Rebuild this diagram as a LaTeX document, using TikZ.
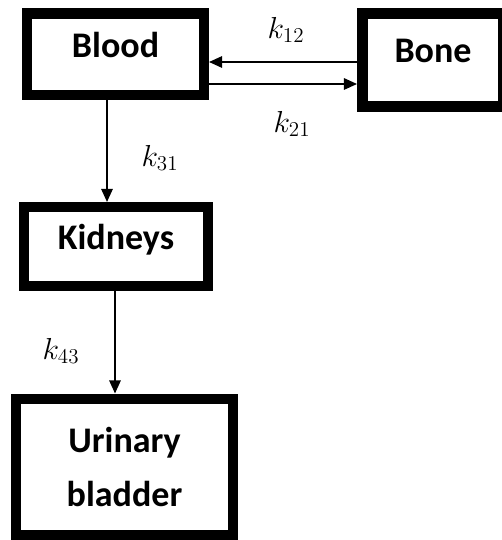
\documentclass[tikz,border=0pt]{standalone}
\usepackage{fontspec}
\setmainfont{Carlito}
\usepackage{tikz}
\usetikzlibrary{arrows.meta}
\definecolor{boxcol}{HTML}{000000}

\begin{document}
\begin{tikzpicture}[
    x=0.02cm, y=-0.02cm,
    organ/.style = {
        draw=boxcol, line width=5.7pt, inner sep=0pt,
        align=center, text height=0.7em, text depth=0.4em,
        font=\fontsize{20.5}{31}\selectfont\bfseries
    },
    arr/.style   = {-{Triangle[length=7.5pt, width=6.5pt]},
                    line width=1.1pt, color=boxcol},
    lbl/.style   = {font=\fontsize{17}{20}\selectfont}
  ]
  \useasboundingbox (0,0) rectangle (501,540);

  %% Compartments
  \node[organ, minimum width=3.54cm, minimum height=1.64cm] (blood) at (115.5,54.5) {Blood};
  \node[organ, minimum width=2.82cm, minimum height=1.86cm,
        line width=6.2pt] (bone) at (433,60) {Bone};
  \node[organ, minimum width=3.68cm, minimum height=1.58cm] (kid) at (116,246.5) {Kidneys};
  \node[organ, minimum width=4.36cm, minimum height=2.74cm,
        text height=, text depth=] (bla) at (124.5,467) {Urinary\\bladder};

  %% Rate constants
  \node[lbl] (k12) at (286,30)  {$k_{12}$};
  \node[lbl] (k21) at (292,124) {$k_{21}$};
  \node[lbl] (k31) at (160,158) {$k_{31}$};
  \node[lbl] (k43) at (61,351)  {$k_{43}$};

  %% Arrows
  \draw[arr] (bone.west |- 0,62)   -- (blood.east |- 0,62);
  \draw[arr] (blood.east |- 0,84)  -- (bone.west |- 0,84);
  \draw[arr] (blood.south -| 107,0) -- (kid.north -| 107,0);
  \draw[arr] (kid.south -| 115,0)   -- (bla.north -| 115,0);

\end{tikzpicture}
\end{document}
